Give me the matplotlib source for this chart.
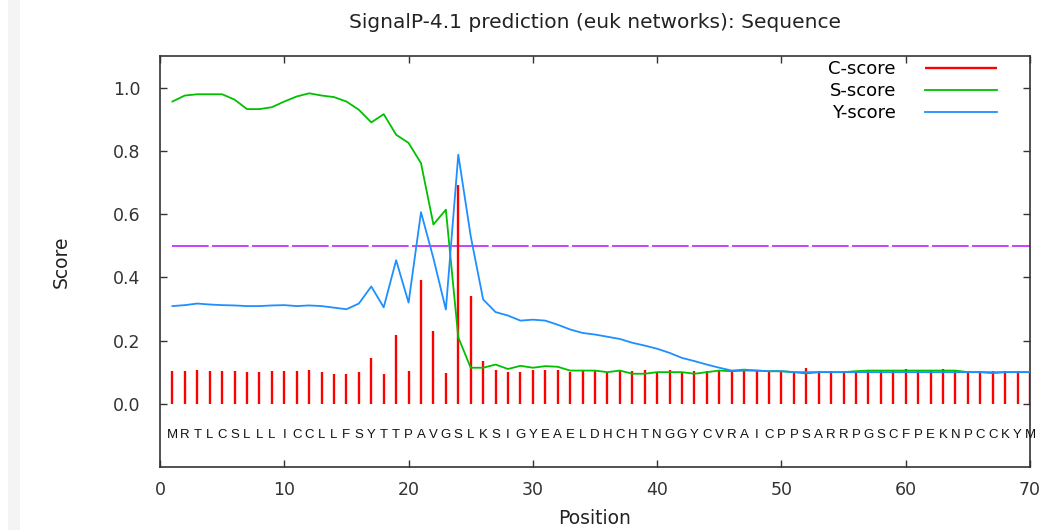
import numpy as np
import matplotlib
matplotlib.use('Agg')
import matplotlib.pyplot as plt
from matplotlib.patches import Rectangle

plt.rcParams.update({
    'font.family': ['DejaVu Sans'],
    'font.size': 12.5,
    'axes.linewidth': 1.2,
    'xtick.direction': 'in', 'ytick.direction': 'in',
    'xtick.major.size': 5, 'ytick.major.size': 5,
    'xtick.major.width': 1.0, 'ytick.major.width': 1.0,
})

sequence = list('MRTLCSLLLICCLLFSYTTPAVGSLKSIGYEAELDHCHTNGGYCVRAICPPSARRPGSCFPEKNPCCKYM')
position = np.arange(1, len(sequence) + 1)

c_score = [0.103, 0.103, 0.106, 0.103, 0.103, 0.103, 0.100, 0.100, 0.103, 0.103,
           0.103, 0.106, 0.100, 0.094, 0.094, 0.100, 0.145, 0.094, 0.216, 0.105,
           0.392, 0.231, 0.097, 0.693, 0.340, 0.134, 0.108, 0.100, 0.100, 0.107,
           0.106, 0.106, 0.100, 0.106, 0.106, 0.100, 0.106, 0.103, 0.106, 0.100,
           0.106, 0.096, 0.103, 0.103, 0.106, 0.103, 0.106, 0.103, 0.100, 0.103,
           0.100, 0.114, 0.105, 0.103, 0.103, 0.103, 0.103, 0.103, 0.103, 0.110,
           0.103, 0.103, 0.110, 0.103, 0.103, 0.103, 0.103, 0.103, 0.103, 0.103]

s_score = [0.956, 0.975, 0.979, 0.979, 0.979, 0.962, 0.932, 0.932, 0.938, 0.956,
           0.972, 0.982, 0.975, 0.970, 0.956, 0.930, 0.890, 0.916, 0.851, 0.825,
           0.761, 0.567, 0.614, 0.210, 0.114, 0.114, 0.124, 0.110, 0.120, 0.114,
           0.119, 0.117, 0.105, 0.105, 0.105, 0.100, 0.105, 0.095, 0.095, 0.100,
           0.100, 0.100, 0.095, 0.100, 0.105, 0.103, 0.105, 0.105, 0.103, 0.103,
           0.100, 0.096, 0.100, 0.100, 0.100, 0.103, 0.105, 0.105, 0.105, 0.105,
           0.105, 0.105, 0.105, 0.105, 0.100, 0.100, 0.097, 0.100, 0.100, 0.100]

y_score = [0.309, 0.312, 0.317, 0.314, 0.312, 0.311, 0.309, 0.309, 0.311, 0.312,
           0.309, 0.311, 0.309, 0.304, 0.299, 0.317, 0.371, 0.305, 0.454, 0.320,
           0.606, 0.460, 0.298, 0.788, 0.530, 0.330, 0.290, 0.279, 0.263, 0.266,
           0.263, 0.250, 0.235, 0.224, 0.219, 0.212, 0.205, 0.193, 0.184, 0.174,
           0.161, 0.145, 0.135, 0.124, 0.114, 0.105, 0.108, 0.105, 0.103, 0.103,
           0.100, 0.100, 0.100, 0.100, 0.100, 0.100, 0.100, 0.100, 0.100, 0.100,
           0.100, 0.100, 0.100, 0.100, 0.100, 0.100, 0.100, 0.100, 0.100, 0.100]

cutoff = 0.5

CLR_C = '#ff0000'
CLR_S = '#00c000'
CLR_Y = '#1e8fff'
CLR_CUT = '#c020ff'

fig = plt.figure(figsize=(10.63, 5.30), dpi=100)
# faint strip at the left edge of the screenshot
fig.patches.append(Rectangle((8 / 1063, 0), 12 / 1063, 1, transform=fig.transFigure,
                             facecolor='#f4f4f4', edgecolor='none'))
ax = fig.add_axes([160 / 1063, 63 / 530, 870 / 1063, 411 / 530])

ax.hlines(cutoff, position[0], position[-1], color=CLR_CUT, lw=1.2,
          linestyles=[(0, (22, 2))], zorder=1)
ax.vlines(position, 0, c_score, color=CLR_C, lw=1.7, label='C-score', zorder=2)
ax.plot(position, s_score, color=CLR_S, lw=1.3, label='S-score', zorder=3)
ax.plot(position, y_score, color=CLR_Y, lw=1.3, label='Y-score', zorder=4)

for p, aa in zip(position, sequence):
    ax.text(p, -0.1, aa, ha='center', va='center', fontsize=9.5,
            family=['Liberation Sans', 'DejaVu Sans'], color='#111111')

ax.set_xlim(0, 70)
ax.set_ylim(-0.2, 1.1)
ax.set_xticks(np.arange(0, 71, 10))
ax.set_yticks(np.arange(0, 1.01, 0.2))
ax.set_yticklabels(['%.1f' % v for v in np.arange(0, 1.01, 0.2)])
ax.tick_params(top=True, right=True, colors='#333333', labelcolor='#333333')
ax.tick_params(axis='y', pad=14)
ax.tick_params(axis='x', pad=10)
for sp in ax.spines.values():
    sp.set_color('#333333')

ax.set_xlabel('Position', color='#222222', fontsize=13.5)
ax.xaxis.set_label_coords(0.5, -0.102)
ax.set_ylabel('Score', color='#222222', fontsize=13.5)
ax.yaxis.set_label_coords(-0.103, 0.5)
ax.set_title('SignalP-4.1 prediction (euk networks): Sequence', pad=20,
             color='#222222', fontsize=14.5)

ax.legend(loc='upper right', bbox_to_anchor=(0.962, 0.99), frameon=False,
          markerfirst=False, borderaxespad=0, borderpad=0, handlelength=4.0,
          handletextpad=1.6, labelspacing=0.22, fontsize=13)

fig.savefig('out.png', dpi=100, facecolor='white')
plt.close(fig)
